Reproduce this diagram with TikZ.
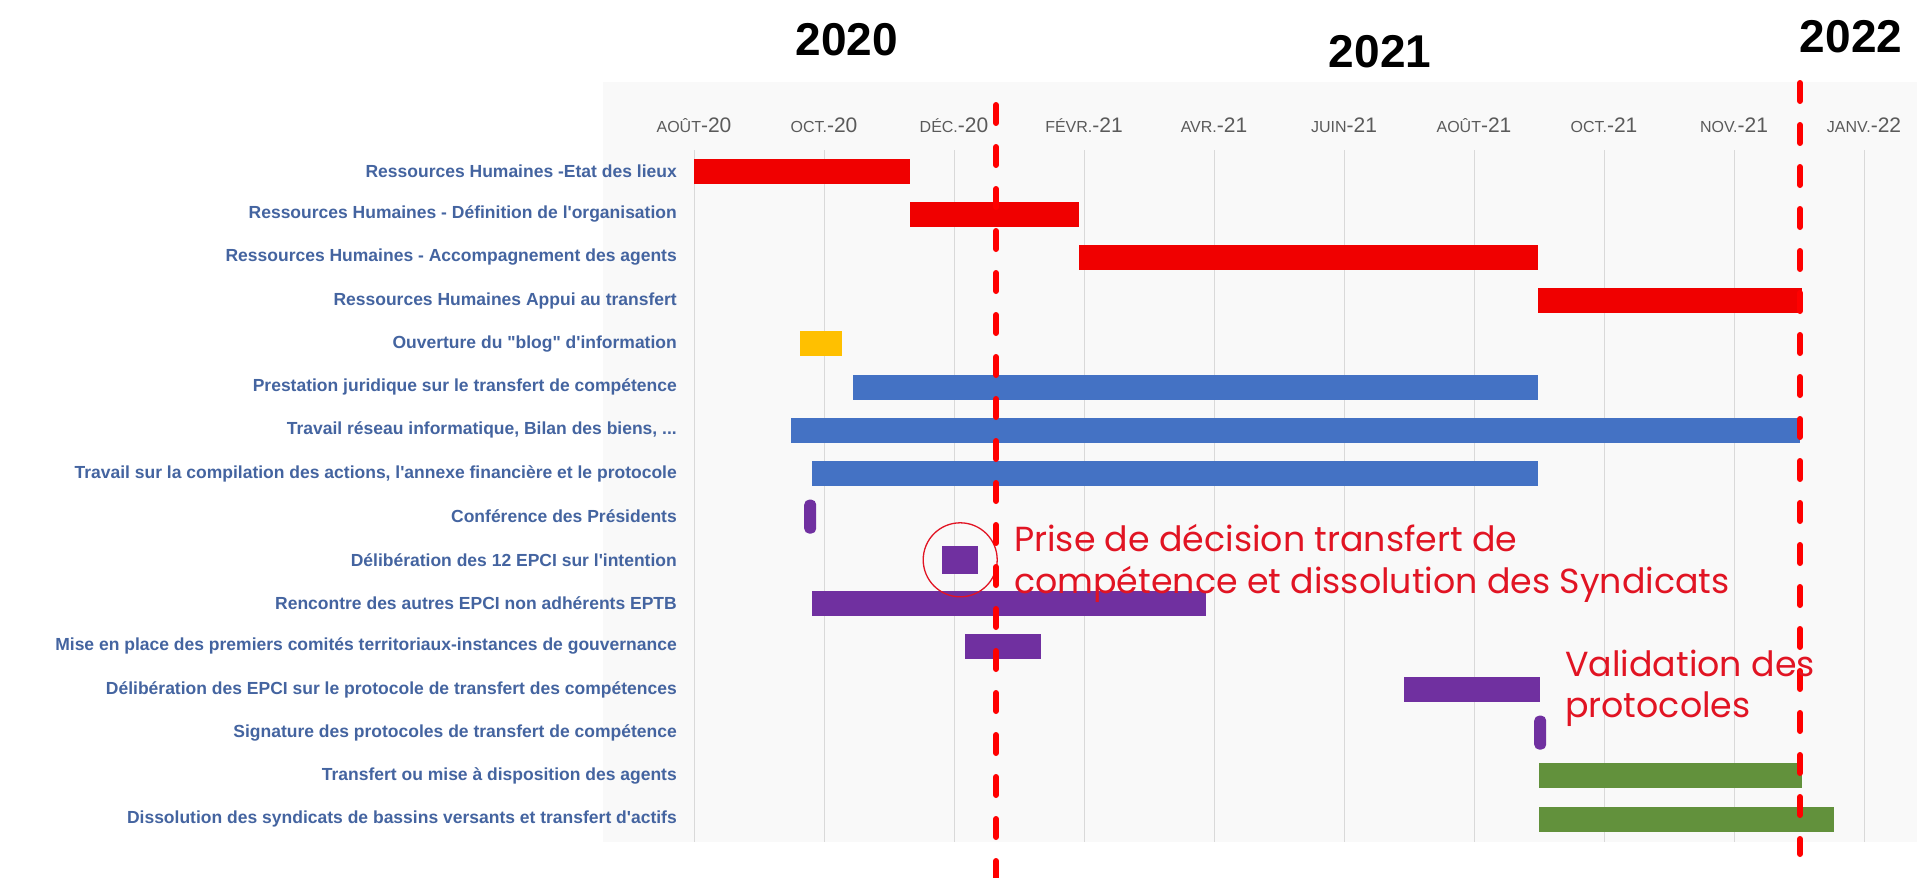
\documentclass[tikz,border=0pt]{standalone}
\usepackage{fontspec}
\setmainfont{Liberation Sans}
\newfontfamily\etiquettes{Liberation Sans}
\newfontfamily\gothique{Poppins}
\definecolor{rouge}{RGB}{240,0,0}
\definecolor{bleu}{RGB}{68,114,196}
\definecolor{jaune}{RGB}{255,192,0}
\definecolor{violet}{RGB}{112,48,160}
\definecolor{vert}{RGB}{98,145,60}
\definecolor{texte}{RGB}{68,100,160}
\definecolor{gris}{RGB}{90,90,90}
\definecolor{note}{RGB}{225,20,35}
\definecolor{fond}{RGB}{249,249,249}
\begin{document}
\begin{tikzpicture}[x=1pt,y=-1pt,
    etiquette/.style={anchor=east, inner sep=0pt, text=texte, font=\etiquettes\fontsize{17.5}{17.5}\selectfont\bfseries},
    barre/.style={anchor=west, inner sep=0pt, minimum height=25pt},
    carre/.style={anchor=west, inner sep=0pt, minimum height=28pt},
    jalon/.style={anchor=west, inner sep=0pt, minimum height=34pt, rounded corners=5pt},
    grille/.style={draw=black!15, line width=1pt},
    mois/.style={anchor=base, inner sep=0pt, text=gris},
    annee/.style={inner sep=0pt, font=\bfseries\fontsize{46}{46}\selectfont},
    pointille/.style={draw=red, line width=6pt, line cap=round, dash pattern=on 18pt off 24pt},
    remarque/.style={anchor=north west, inner sep=0pt, align=left, text=note}]
  \useasboundingbox (0,0) rectangle (1917,878);

  % Fond du graphique
  \fill[fond] (603,82) rectangle (1917,842);

  % Années
  \node[annee] (a2020) at (847,40) {2020};
  \node[annee] (a2021) at (1380,52) {2021};
  \node[annee] (a2022) at (1851,37) {2022};

  % Mois et grille
  \foreach \m/\a [count=\k from 0] in {AOÛT/20, OCT./20, DÉC./20, FÉVR./21, AVR./21,
      JUIN/21, AOÛT/21, OCT./21, NOV./21, JANV./22} {
    \draw[grille] (694+130*\k,150) -- (694+130*\k,842);
    \node[mois] (m\k) at (694+130*\k,132)
      {{\fontsize{16}{16}\selectfont\m}{\fontsize{21}{21}\selectfont-\a}};
  }

  % Tâches
  \foreach \d/\f/\c/\s/\t [count=\i] in {
      694/910/rouge/barre/{Ressources Humaines -Etat des lieux},
      910/1079/rouge/barre/{Ressources Humaines - Définition de l'organisation},
      1079/1538/rouge/barre/{Ressources Humaines - Accompagnement des agents},
      1538/1802/rouge/barre/{Ressources Humaines Appui au transfert},
      800/842/jaune/barre/{Ouverture du "blog" d'information},
      853/1538/bleu/barre/{Prestation juridique sur le transfert de compétence},
      791/1800/bleu/barre/{Travail réseau informatique, Bilan des biens, ...},
      812/1538/bleu/barre/{Travail sur la compilation des actions, l'annexe financière et le protocole},
      804/816/violet/jalon/{Conférence des Présidents},
      942/978/violet/carre/{Délibération des 12 EPCI sur l'intention},
      812/1206/violet/barre/{Rencontre des autres EPCI non adhérents EPTB},
      965/1041/violet/barre/{Mise en place des premiers comités territoriaux-instances de gouvernance},
      1404/1540/violet/barre/{Délibération des EPCI sur le protocole de transfert des compétences},
      1534/1546/violet/jalon/{Signature des protocoles de transfert de compétence},
      1539/1802/vert/barre/{Transfert ou mise à disposition des agents},
      1539/1834/vert/barre/{Dissolution des syndicats de bassins versants et transfert d'actifs}} {
    \pgfmathsetmacro{\y}{171+(\i-1)*43.2}
    \node[etiquette] (t\i) at (677,\y) {\t};
    \node[\s, fill=\c, minimum width={(\f-\d)*1pt}] (b\i) at (\d,\y) {};
  }

  % Cercle sur la délibération
  \node[draw=note, circle, line width=1.3pt, minimum size=74pt, inner sep=0pt] (cercle) at (b10) {};

  % Lignes de décision
  \coordinate (h1) at (996,105);
  \coordinate (f1) at (996,885);
  \coordinate (h2) at (1800,83);
  \coordinate (f2) at (1800,854);
  \draw[pointille] (h1) -- (f1);
  \draw[pointille] (h2) -- (f2);

  % Remarques
  \node[remarque, font=\gothique\fontsize{34.8}{42}\selectfont] (decision) at (1014,524)
    {Prise de décision transfert de\\compétence et dissolution des Syndicats};
  \node[remarque, font=\gothique\fontsize{34.8}{41}\selectfont] (validation) at (1565,650)
    {Validation des\\protocoles};
\end{tikzpicture}
\end{document}
